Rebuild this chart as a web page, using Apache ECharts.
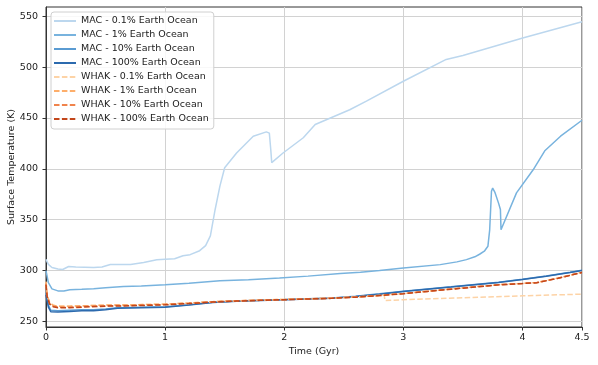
<!DOCTYPE html>
<html><head><meta charset="utf-8">
<script src="https://cdn.jsdelivr.net/npm/echarts@6/dist/echarts.min.js"></script>
<style>html,body{margin:0;padding:0;background:#fff}#c{width:598px;height:365px}</style>
</head><body><div id="c"></div>
<script>
const seriesNames = [
  'MAC - 0.1% Earth Ocean','MAC - 1% Earth Ocean','MAC - 10% Earth Ocean','MAC - 100% Earth Ocean',
  'WHAK - 0.1% Earth Ocean','WHAK - 1% Earth Ocean','WHAK - 10% Earth Ocean','WHAK - 100% Earth Ocean'
];
const xTicks = [0, 1, 2, 3, 4, 4.5];
const yTicks = [250, 300, 350, 400, 450, 500, 550];

const MAC_01 = [[0,311],[0.02,306],[0.05,303],[0.1,301.5],[0.14,301],[0.19,304],[0.25,303.5],[0.4,303],[0.47,303.5],[0.54,306],[0.71,306],[0.82,308],[0.93,310.5],[1.0,311],[1.08,311.5],[1.15,314.5],[1.21,315.6],[1.29,319.5],[1.34,324.5],[1.38,334],[1.42,360],[1.46,383],[1.5,401],[1.6,415.5],[1.74,432],[1.85,436.3],[1.875,435],[1.887,419],[1.895,406],[1.99,415.5],[2.16,430.5],[2.26,443.5],[2.55,458],[2.69,466.5],[3.0,486],[3.36,507.5],[3.5,511.3],[4.01,528.7],[4.5,544.5]];
const MAC_1 = [[0,300],[0.02,288],[0.05,282],[0.1,280],[0.15,279.8],[0.2,281.2],[0.3,281.5],[0.4,282],[0.5,283],[0.65,284.2],[0.8,284.8],[1.0,286],[1.2,287.5],[1.46,290],[1.7,291],[1.96,292.7],[2.2,294.5],[2.47,297],[2.64,298.2],[2.8,300],[3.0,302.5],[3.31,305.8],[3.45,308.5],[3.53,310.7],[3.6,313.5],[3.64,316],[3.68,319],[3.71,323.8],[3.725,340],[3.74,378],[3.75,381],[3.77,376.5],[3.8,366],[3.815,360],[3.82,340],[3.95,376.3],[4.09,399],[4.19,418],[4.32,432],[4.5,447.7]];
const MAC_10 = [[0,278],[0.02,266],[0.04,261],[0.1,260.5],[0.2,261],[0.3,261.5],[0.4,261.5],[0.5,262.3],[0.6,263.5],[0.8,264],[1.0,264.5],[1.2,266.3],[1.4,268.8],[1.6,270.1],[1.8,270.9],[2.0,271.5],[2.2,272.3],[2.4,273.1],[2.6,274.7],[2.8,277.1],[3.0,279.7],[3.2,281.9],[3.4,284],[3.6,286.3],[3.8,288.6],[4.0,291.5],[4.2,294.7],[4.4,298.3],[4.5,300.3]];
const MAC_100 = [[0,276],[0.02,264],[0.04,259.5],[0.1,259.3],[0.2,259.8],[0.3,260.5],[0.4,260.5],[0.5,261.5],[0.6,263],[0.8,263.5],[1.0,264],[1.2,266],[1.4,268.5],[1.6,269.8],[1.8,270.6],[2.0,271.2],[2.2,272],[2.4,272.8],[2.6,274.4],[2.8,276.8],[3.0,279.4],[3.2,281.6],[3.4,283.7],[3.6,286],[3.8,288.3],[4.0,291.2],[4.2,294.4],[4.4,298],[4.5,300]];
const WHAK_01 = [[0,289],[0.01,276],[0.03,268.5],[0.06,266],[0.1,265],[0.2,265],[0.3,265.3],[0.5,266],[0.7,266.2],[1.0,267],[1.2,268],[1.4,269.4],[1.6,270.3],[1.8,271],[2.0,271.6],[2.2,272.2],[2.4,272.9],[2.6,274],[2.8,275.5],[2.84,275.8],[2.845,270.5],[3.0,271.3],[3.5,273.2],[4.0,275.1],[4.5,276.8]];
const WHAK_1 = [[0,289],[0.01,276],[0.03,268.5],[0.06,266],[0.1,265],[0.2,265],[0.3,265.3],[0.5,266],[0.7,266.2],[1.0,267],[1.2,268],[1.4,269.4],[1.6,270.3],[1.8,271],[2.0,271.6],[2.2,272.2],[2.4,272.9],[2.6,274],[2.8,275.6],[3.0,277.4],[3.2,279.6],[3.4,281.8],[3.6,284],[3.8,286.1],[4.0,287.4],[4.12,288.2],[4.3,292.6],[4.5,298.3]];
const WHAK_10 = [[0,287],[0.01,275],[0.03,267.5],[0.06,265],[0.1,264],[0.2,264],[0.3,264.5],[0.5,265.4],[0.7,265.7],[1.0,266.6],[1.2,267.8],[1.4,269.2],[1.6,270.2],[1.8,270.8],[2.0,271.4],[2.2,272.1],[2.4,272.8],[2.6,273.9],[2.8,275.5],[3.0,277.3],[3.2,279.5],[3.4,281.7],[3.6,283.9],[3.8,286],[4.0,287.3],[4.12,288.1],[4.3,292.5],[4.5,298.2]];
const WHAK_100 = [[0,286],[0.01,274],[0.03,267],[0.06,264.5],[0.1,263.5],[0.2,263.5],[0.3,264],[0.5,265],[0.7,265.3],[1.0,266.3],[1.2,267.5],[1.4,269],[1.6,270],[1.8,270.7],[2.0,271.3],[2.2,272],[2.4,272.7],[2.6,273.8],[2.8,275.4],[3.0,277.2],[3.2,279.4],[3.4,281.6],[3.6,283.8],[3.8,285.9],[4.0,287.2],[4.12,288],[4.3,292.4],[4.5,298.1]];

const allData = [MAC_01, MAC_1, MAC_10, MAC_100, WHAK_01, WHAK_1, WHAK_10, WHAK_100];
const colors = ['#bcd7ee','#78b3de','#5a9bd2','#2c6aae','#fdd3a6','#fdae6b','#f0834c','#c2461a'];
const FONT = 'DejaVu Sans';

const chart = echarts.init(document.getElementById('c'), null, {renderer:'canvas'});
chart.setOption({
  animation: false,
  backgroundColor: '#fff',
  grid: {left: 46, right: 16, top: 7, bottom: 38, outerBoundsMode: 'none', containLabel: false,
         show: true, borderColor: '#333', borderWidth: 1, backgroundColor: 'transparent'},
  legend: {
    orient: 'vertical', left: 51, top: 12,
    data: seriesNames,
    itemWidth: 22, itemHeight: 10, itemGap: 4,
    padding: [4, 5, 5, 2],
    itemStyle: {opacity: 0},
    backgroundColor: 'rgba(255,255,255,0.85)', borderColor: '#d0d0d0', borderWidth: 1, borderRadius: 3,
    textStyle: {fontFamily: FONT, fontSize: 9.5, color: '#222'}
  },
  xAxis: {
    type: 'value', min: 0, max: 4.5, interval: 1,
    axisLine: {show: true, onZero: false, lineStyle: {color: '#333'}},
    axisTick: {show: true, length: 3.5, lineStyle: {color: '#333'}},
    axisLabel: {fontFamily: FONT, fontSize: 9.5, color: '#222', margin: 6, formatter: v => String(v)},
    splitLine: {show: true, lineStyle: {color: '#d2d2d2'}},
    name: 'Time (Gyr)', nameLocation: 'middle', nameGap: 20, nameMoveOverlap: false,
    nameTextStyle: {fontFamily: FONT, fontSize: 9.5, color: '#222'}
  },
  yAxis: {
    type: 'value', min: 244.5, max: 559, minInterval: 50, maxInterval: 50, splitNumber: 6,
    axisLine: {show: true, onZero: false, lineStyle: {color: '#333'}},
    axisTick: {show: true, length: 3.5, lineStyle: {color: '#333'}, customValues: yTicks},
    axisLabel: {fontFamily: FONT, fontSize: 9.5, color: '#222', margin: 8, customValues: yTicks},
    splitLine: {show: true, lineStyle: {color: '#d2d2d2'}},
    name: 'Surface Temperature (K)', nameLocation: 'middle', nameGap: 29, nameMoveOverlap: false,
    nameTextStyle: {fontFamily: FONT, fontSize: 9.5, color: '#222'}
  },
  series: allData.map((d, i) => ({
    name: seriesNames[i], type: 'line', data: d, showSymbol: false, symbol: 'none',
    lineStyle: {width: 1.5, color: colors[i], type: i >= 4 ? [5.5, 2.4] : 'solid'},
    itemStyle: {color: colors[i]},
    z: 2 + i
  }))
});
</script></body></html>
